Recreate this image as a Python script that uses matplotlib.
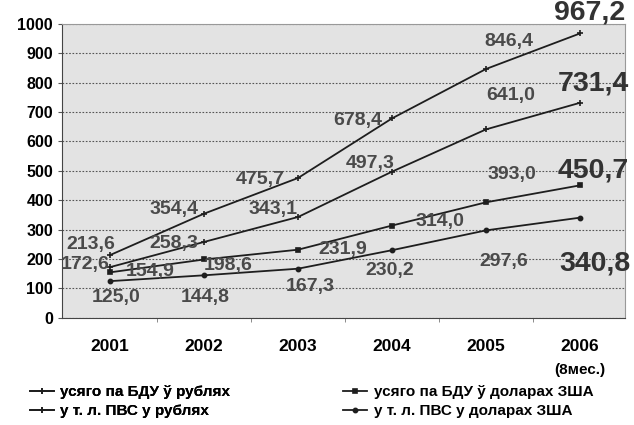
import numpy as np
import matplotlib
matplotlib.use('Agg')
import matplotlib.pyplot as plt

plt.rcParams['font.family'] = ['Liberation Sans', 'DejaVu Sans']

years = ['2001', '2002', '2003', '2004', '2005', '2006']
rub_total = [213.6, 354.4, 475.7, 678.4, 846.4, 967.2]
rub_pvs = [172.6, 258.3, 343.1, 497.3, 641.0, 731.4]
usd_total = [154.9, 198.6, 231.9, 314.0, 393.0, 450.7]
usd_pvs = [125.0, 144.8, 167.3, 230.2, 297.6, 340.8]
names = ['усяго па БДУ ў рублях', 'у т. л. ПВС у рублях',
         'усяго па БДУ ў доларах ЗША', 'у т. л. ПВС у доларах ЗША']

# label offsets from the point, in pixels (dx right, dy up)
offs = [
    [(-19, 11), (-30, 4), (-38, -2), (-34, -2), (23, 27), (10, 21)],
    [(-25, 3), (-30, -2), (-25, 7), (-22, 8), (25, 34), (13, 19)],
    [(40, 1), (24, -6), (45, 0), (48, 4), (26, 28), (13, 15)],
    [(6, -16), (1, -22), (12, -18), (-2, -20), (18, -31), (15, -46)],
]

fig = plt.figure(figsize=(6.34, 4.25), dpi=100)
ax = fig.add_axes([0.098, 0.252, 0.888, 0.692])
ax.set_facecolor('#e3e3e3')

x = np.arange(len(years))
series = [rub_total, rub_pvs, usd_total, usd_pvs]
markers = ['+', '+', 's', 'o']
handles = []
for k, vals in enumerate(series):
    h, = ax.plot(x, vals, color='#1e1e1e', lw=1.3, marker=markers[k],
                 ms=5 if markers[k] == '+' else 3, mew=1.2)
    handles.append(h)
    for i, v in enumerate(vals):
        txt = ('%.1f' % v).replace('.', ',')
        dx, dy = offs[k][i]
        big = i == len(vals) - 1
        ax.annotate(txt, (x[i], v), xytext=(dx * 0.72, dy * 0.72),
                    textcoords='offset points', ha='center', va='center',
                    fontsize=20.5 if big else 14, fontweight='bold',
                    color='#333333' if big else '#4a4a4a', annotation_clip=False)

ax.set_xlim(-0.51, 5.48)
ax.set_ylim(0, 1000)
ax.set_yticks(np.arange(0, 1001, 100))
ax.yaxis.grid(True, linestyle=(0, (1.5, 1.5)), color='#555555', lw=0.8)
ax.set_axisbelow(True)
ax.tick_params(axis='y', labelsize=11.5, length=3, color='#555555')
for lab in ax.get_yticklabels():
    lab.set_fontweight('bold')
ax.set_xticks(x)
ax.set_xticklabels(years, fontsize=12.5, fontweight='bold')
ax.tick_params(axis='x', length=0, pad=15)
ax.set_xticks(x[:-1] + 0.5, minor=True)
ax.tick_params(axis='x', which='minor', length=3, color='#777777')
ax.text(5, -0.177, '(8мес.)', transform=ax.get_xaxis_transform(), ha='center',
        va='center', fontsize=11, fontweight='bold')
for s in ['left', 'bottom']:
    ax.spines[s].set_color('#444444')
for s in ['top', 'right']:
    ax.spines[s].set_color('#999999')

legprops = dict(loc='upper left', frameon=False, prop={'weight': 'bold', 'size': 11},
                handlelength=1.6, handletextpad=0.4, labelspacing=0.3,
                borderpad=0, borderaxespad=0)
leg1 = fig.legend(handles[:2], names[:2], bbox_to_anchor=(0.047, 0.093), **legprops)
fig.legend(handles[2:], names[2:], bbox_to_anchor=(0.541, 0.093), **legprops)
fig.add_artist(leg1)

fig.savefig('out.png', dpi=100)
